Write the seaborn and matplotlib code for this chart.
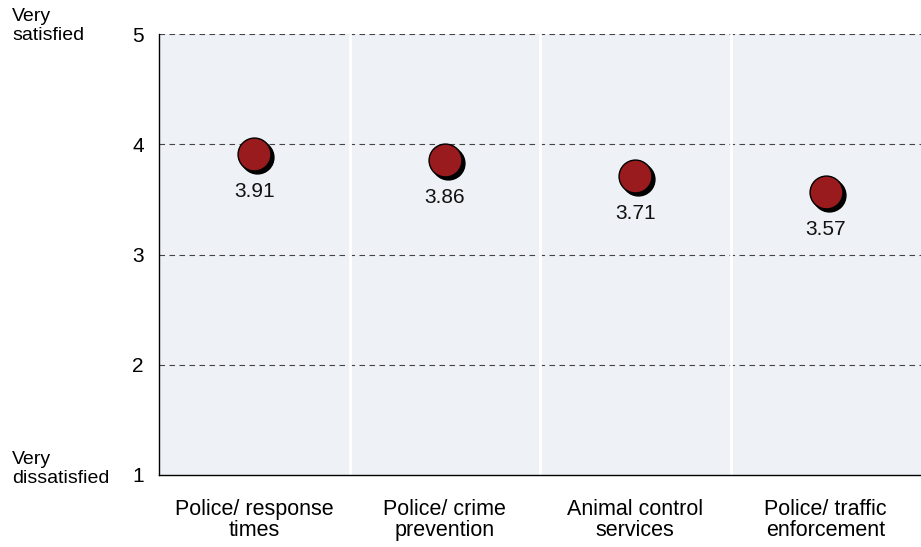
import matplotlib
matplotlib.use("Agg")
import matplotlib.pyplot as plt
import matplotlib.transforms as mtransforms
import seaborn as sns
import pandas as pd

# Mean satisfaction ratings (1 = very dissatisfied, 5 = very satisfied)
services = ["Police/ response\ntimes", "Police/ crime\nprevention",
            "Animal control\nservices", "Police/ traffic\nenforcement"]
ratings = [3.91, 3.86, 3.71, 3.57]
y_ticks = [1, 2, 3, 4, 5]

df = pd.DataFrame({"service": services, "rating": ratings,
                   "pos": range(len(services))})

sns.set_theme(style="white")
plt.rcParams["font.family"] = ["Liberation Sans", "DejaVu Sans"]
plt.rcParams["text.color"] = "black"
plt.rcParams["xtick.labelcolor"] = "black"
plt.rcParams["ytick.labelcolor"] = "black"

fig = plt.figure(figsize=(9.21, 5.47), dpi=100)
ax = fig.add_axes([159 / 921, 1 - 475 / 547, 1 - 159 / 921, (475 - 34) / 547])
ax.set_facecolor("#eef2f6")

# dashed horizontal gridlines
for y in y_ticks[1:]:
    ax.axhline(y, color="#444444", lw=0.8, ls=(0, (5, 4)), zorder=1)
# white separators between service columns
for x in [0.5, 1.5, 2.5]:
    ax.axvline(x, color="white", lw=2, zorder=1)

# drop shadow behind each marker
shadow = mtransforms.offset_copy(ax.transData, fig=fig, x=3, y=-3, units="dots")
sns.scatterplot(data=df, x="pos", y="rating", ax=ax, color="black", s=560,
                edgecolor="black", linewidth=1, transform=shadow, zorder=3,
                legend=False)
sns.scatterplot(data=df, x="pos", y="rating", ax=ax, color="#991b1e", s=560,
                edgecolor="black", linewidth=1, zorder=4, legend=False)

for x, v in zip(df["pos"], df["rating"]):
    ax.annotate(f"{v:.2f}", (x, v), xytext=(0, -27), textcoords="offset points",
                ha="center", va="center", fontsize=15, color="#111111", zorder=5)

ax.set_xlim(-0.5, 3.5)
ax.set_ylim(1, 5)
ax.set_yticks(y_ticks)
ax.set_yticklabels([str(t) for t in y_ticks], fontsize=15)
ax.set_xticks([-0.5, 0.5, 1.5, 2.5, 3.5])
ax.set_xticklabels([])
ax.set_xticks(range(len(services)), minor=True)
ax.set_xticklabels(services, minor=True, fontsize=15.5, linespacing=1.05)
ax.tick_params(axis="x", which="minor", length=0, pad=17)
ax.tick_params(axis="x", which="major", direction="out", length=6, width=1, color="#333333")
ax.tick_params(axis="y", direction="inout", length=10, width=1, color="#333333", pad=6)
ax.set_xlabel("")
ax.set_ylabel("")

for side in ["top", "right"]:
    ax.spines[side].set_visible(False)
for side in ["left", "bottom"]:
    ax.spines[side].set_color("black")
    ax.spines[side].set_linewidth(1)

fig.text(12 / 921, 1 - 26 / 547, "Very\nsatisfied", ha="left", va="center",
         fontsize=14, linespacing=1.15)
fig.text(12 / 921, 1 - 469 / 547, "Very\ndissatisfied", ha="left", va="center",
         fontsize=14, linespacing=1.15)

fig.savefig("out.png", dpi=100)
